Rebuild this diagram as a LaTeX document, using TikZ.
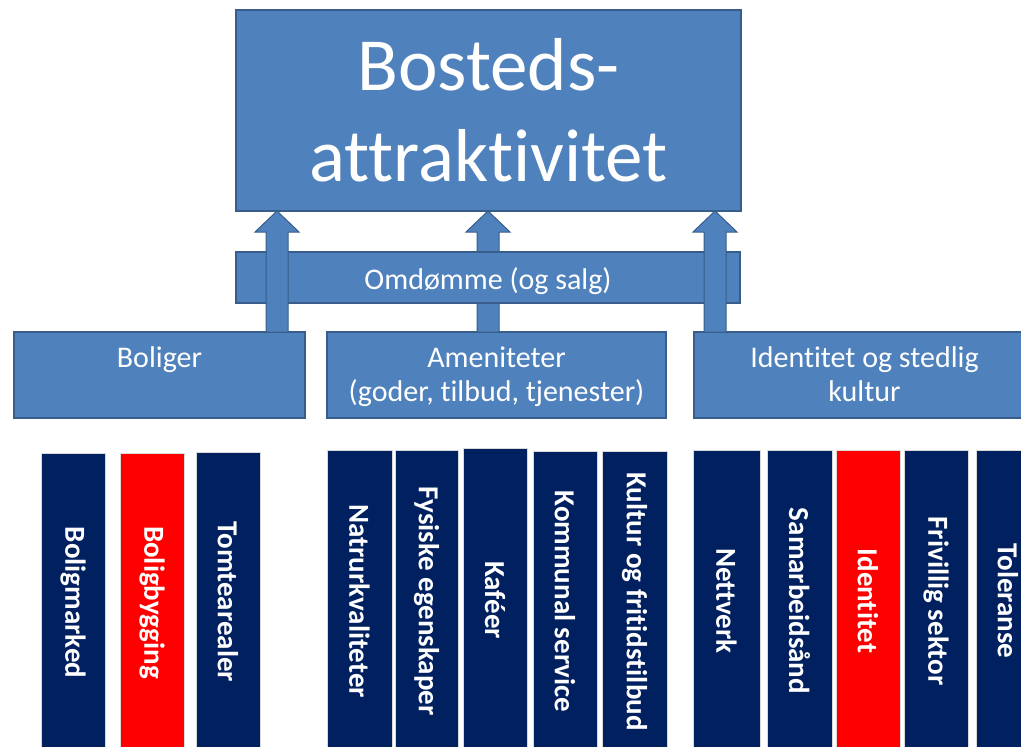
\documentclass[tikz,border=0pt]{standalone}
\usepackage{fontspec}
\setmainfont{Carlito}[Ligatures=NoCommon]
\usetikzlibrary{calc}
\definecolor{accent}{HTML}{4F81BD}
\definecolor{accentline}{HTML}{385D8A}
\definecolor{navy}{HTML}{002060}
\definecolor{signal}{HTML}{FF0000}

% upward block arrow from a foot coordinate to the bottom of a node
\newcommand\liftarrow[2]{%
  \coordinate (#1tip) at (#1 |- #2.south);
  \draw[blockarrow] ($(#1)+(-11,0)$) -- ($(#1tip)+(-11,21)$) -- ($(#1tip)+(-22,21)$)
    -- (#1tip) -- ($(#1tip)+(22,21)$) -- ($(#1tip)+(11,21)$) -- ($(#1)+(11,0)$) -- cycle;}

\begin{document}
\begin{tikzpicture}[x=1pt,y=-1pt,
  box/.style={draw=accentline, line width=1.2pt, fill=accent, inner sep=0pt, outer sep=0pt, text=white},
  boxlabel/.style={anchor=north, yshift=-11pt, inner sep=0pt, text=white, align=center,
    font=\fontsize{30}{34}\selectfont},
  blockarrow/.style={draw=accentline, line width=1pt, fill=accent, line join=miter},
  pillar/.style={draw=white!85!black, line width=0.8pt, fill=navy, inner sep=0pt, outer sep=0pt,
    text=white, rotate=-90, minimum height=64pt, font=\fontsize{29}{34}\selectfont\bfseries},
  hot/.style={pillar, fill=signal},
  ]
\useasboundingbox (0,0) rectangle (1021,747);
\clip (0,0) rectangle (1021,747);

% top goal
\node[box, minimum width=505pt, minimum height=201pt, align=center,
  font=\fontsize{75}{91}\selectfont] (top) at (488.5,110.5) {Bosteds-\\attraktivitet};

% three pillars of attractiveness
\node[box, minimum width=291pt, minimum height=86pt,
  label={[boxlabel]north:\strut Boliger}] (bol) at (159.5,375) {};
\node[box, minimum width=339pt, minimum height=86pt,
  label={[boxlabel]north:\strut Ameniteter\\\strut (goder, tilbud, tjenester)}] (ame) at (496.5,375) {};
\node[box, minimum width=341pt, minimum height=86pt,
  label={[boxlabel]north:\strut Identitet og stedlig\\\strut kultur}] (ide) at (864.5,375) {};

% feet of the arrows on the pillar boxes
\coordinate (f1) at (277,332);
\coordinate (f2) at (488,332);
\coordinate (f3) at (715,332);

% the middle arrow runs behind the reputation band
\liftarrow{f2}{top}

% reputation band
\node[box, minimum width=504pt, minimum height=51pt, font=\fontsize{30}{34}\selectfont,
  text depth=2pt] (omd) at (488,277.5) {\raisebox{-4pt}{Omdømme (og salg)}};

% the outer arrows cross in front of it
\liftarrow{f1}{top}
\liftarrow{f3}{top}

% housing factors
\node[pillar, minimum width=299pt] (p1) at (73,602.5) {Boligmarked};
\node[hot, minimum width=299pt] (p2) at (152,602.5) {Boligbygging};
\node[pillar, minimum width=300pt] (p3) at (228,602) {Tomtearealer};

% amenity factors
\node[pillar, minimum width=302pt, minimum height=65pt] (p4) at (359.5,601) {Natrurkvaliteter};
\node[pillar, minimum width=302pt, minimum height=63pt] (p5) at (426.5,601) {Fysiske egenskaper};
\node[pillar, minimum width=304pt] (p6) at (495,600) {Kaféer};
\node[pillar, minimum width=301pt] (p7) at (565,601.5) {Kommunal service};
\node[pillar, minimum width=301pt, minimum height=65pt] (p8) at (634.5,601.5) {Kultur og fritidstilbud};

% identity factors
\node[pillar, minimum width=302pt, minimum height=67pt] (p9) at (726.5,601) {Nettverk};
\node[pillar, minimum width=302pt, minimum height=65pt] (p10) at (799.5,601) {Samarbeidsånd};
\node[hot, minimum width=302pt] (p11) at (868,601) {Identitet};
\node[pillar, minimum width=302pt] (p12) at (936,601) {Frivillig sektor};
\node[pillar, minimum width=302pt] (p13) at (1008,601) {Toleranse};
\end{tikzpicture}
\end{document}
